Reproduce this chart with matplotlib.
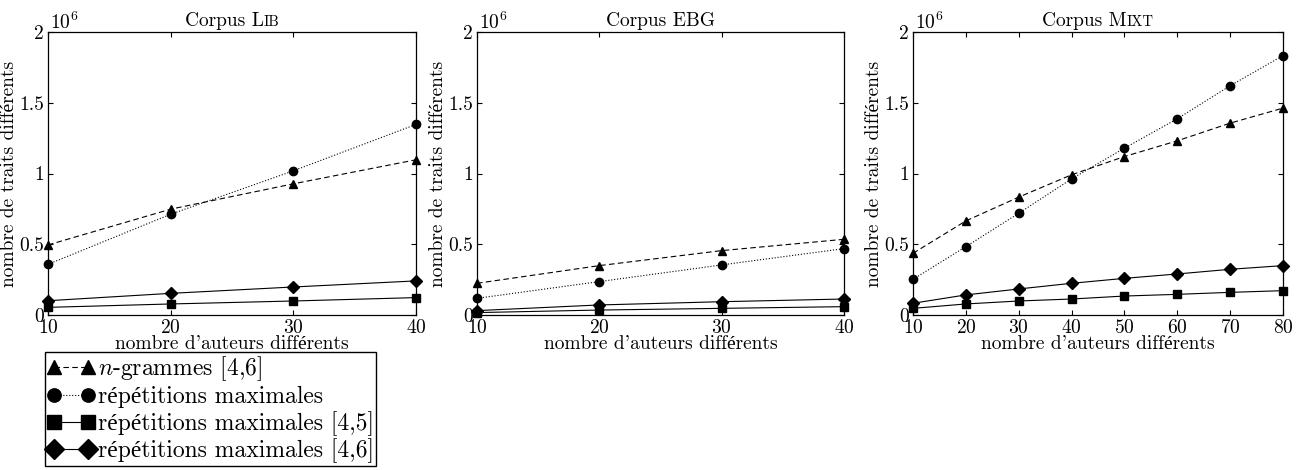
import matplotlib
matplotlib.use('Agg')
import matplotlib.pyplot as plt
from matplotlib.offsetbox import TextArea, HPacker, AnchoredOffsetbox

plt.rcParams['font.family'] = ['cmr10', 'Liberation Serif']
plt.rcParams['mathtext.fontset'] = 'cm'
plt.rcParams['axes.unicode_minus'] = False
plt.rcParams['axes.formatter.use_mathtext'] = True

# values in millions of features
x_lib = [10, 20, 30, 40]
lib_ngram = [0.495, 0.748, 0.927, 1.097]
lib_rep = [0.358, 0.712, 1.019, 1.347]
lib_rep45 = [0.054, 0.078, 0.099, 0.123]
lib_rep46 = [0.101, 0.153, 0.198, 0.241]

x_ebg = [10, 20, 30, 40]
ebg_ngram = [0.224, 0.349, 0.455, 0.535]
ebg_rep = [0.118, 0.236, 0.354, 0.469]
ebg_rep45 = [0.017, 0.035, 0.047, 0.059]
ebg_rep46 = [0.031, 0.071, 0.094, 0.113]

x_mixt = [10, 20, 30, 40, 50, 60, 70, 80]
mixt_ngram = [0.436, 0.665, 0.833, 0.991, 1.120, 1.231, 1.356, 1.462]
mixt_rep = [0.252, 0.483, 0.719, 0.962, 1.179, 1.387, 1.620, 1.833]
mixt_rep45 = [0.047, 0.078, 0.099, 0.113, 0.134, 0.146, 0.160, 0.172]
mixt_rep46 = [0.083, 0.142, 0.184, 0.224, 0.259, 0.290, 0.323, 0.349]

labels = [r'$n$-grammes [4,6]', 'répétitions maximales',
          'répétitions maximales [4,5]', 'répétitions maximales [4,6]']
styles = [('^', (0, (5, 3))), ('o', ':'), ('s', '-'), ('D', '-')]

panels = [
    (('Corpus L', 'IB'), x_lib, [lib_ngram, lib_rep, lib_rep45, lib_rep46]),
    (('Corpus EBG', ''), x_ebg, [ebg_ngram, ebg_rep, ebg_rep45, ebg_rep46]),
    (('Corpus M', 'IXT'), x_mixt, [mixt_ngram, mixt_rep, mixt_rep45, mixt_rep46]),
]

W, H = 1299, 470
boxes = [(48, 416), (477, 844), (913, 1283)]
top, bottom = 32, 315
fs = 14

fig = plt.figure(figsize=(W / 100, H / 100), dpi=100)

handles = []
for (title, xs, series), (l, r) in zip(panels, boxes):
    ax = fig.add_axes([l / W, 1 - bottom / H, (r - l) / W, (bottom - top) / H])
    for ys, (m, ls), lab in zip(series, styles, labels):
        ms = 6.5 if m == 'D' else 6
        h, = ax.plot(xs, ys, color='black', linestyle=ls, linewidth=0.8,
                     marker=m, markersize=ms, label=lab, clip_on=False)
        if len(handles) < 4:
            handles.append(h)
    ax.set_xlim(xs[0], xs[-1])
    ax.set_ylim(0, 2)
    ax.set_xticks(xs)
    ax.set_yticks([0, 0.5, 1, 1.5, 2])
    ax.set_yticklabels(['0', '0.5', '1', '1.5', '2'])
    ax.tick_params(direction='in', top=True, right=True, length=3.5,
                   labelsize=fs, width=0.8)
    ax.tick_params(axis='x', pad=3)
    ax.tick_params(axis='y', pad=3)
    for s in ax.spines.values():
        s.set_linewidth(0.9)
    ax.set_xlabel("nombre d'auteurs différents", fontsize=fs, labelpad=-1.5)
    ax.set_ylabel('nombre de traits différents', fontsize=fs, labelpad=1)
    ax.text(0.005, 0.995, r'$10^{6}$', transform=ax.transAxes, ha='left',
            va='bottom', fontsize=fs)
    parts = [TextArea(title[0], textprops=dict(size=fs))]
    if title[1]:
        parts.append(TextArea(title[1], textprops=dict(size=fs * 0.75)))
    tbox = HPacker(children=parts, align='baseline', pad=0, sep=0)
    ab = AnchoredOffsetbox(loc='lower center', child=tbox, pad=0, borderpad=0.15,
                           bbox_to_anchor=(0.5, 1.0), bbox_transform=ax.transAxes,
                           frameon=False)
    ax.add_artist(ab)

leg = fig.legend(handles, labels, loc='upper left',
                 bbox_to_anchor=(45 / W, 1 - 352 / H), fontsize=17,
                 numpoints=2, markerscale=1.6, handlelength=2.0,
                 handletextpad=0.15, borderpad=0.1, labelspacing=0.12,
                 borderaxespad=0, fancybox=False, framealpha=1,
                 edgecolor='black')
leg.get_frame().set_linewidth(1.0)

fig.savefig('out.png', dpi=100)
